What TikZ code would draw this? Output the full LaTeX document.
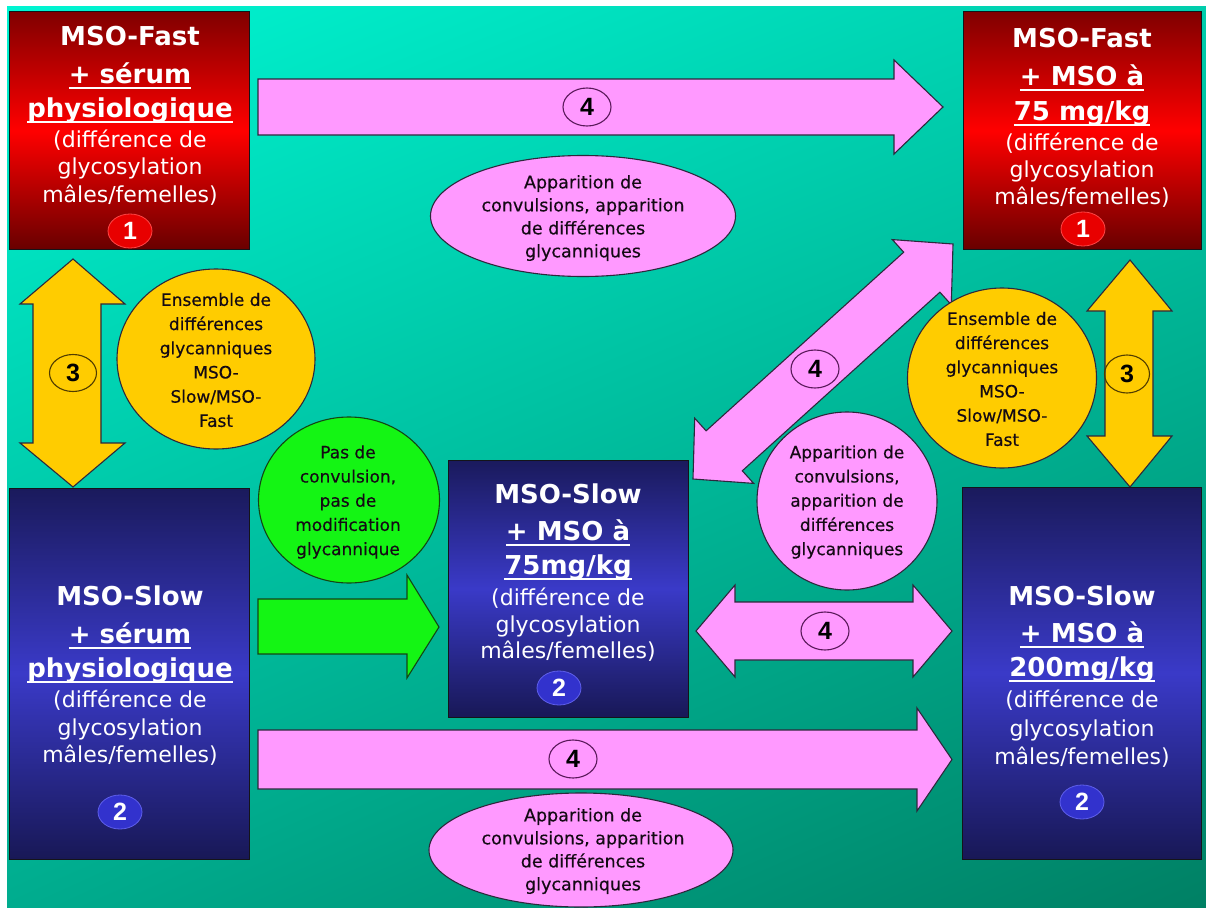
\documentclass[tikz,border=0pt]{standalone}
\usepackage{fontspec}
\setmainfont{DejaVu Sans}
\newfontfamily\numfont{Liberation Sans}
\newfontfamily\bubfont{DejaVu Sans}[FakeBold=0.4]
\usetikzlibrary{shapes.geometric,shadings}

\newcommand\hdrfont{\fontsize{26bp}{30bp}\selectfont\bfseries}
\newcommand\bodyfont{\fontsize{22bp}{27bp}\selectfont}
\newcommand\circfont{\bubfont\fontsize{17bp}{24.2bp}\selectfont}
\newcommand\ellfont{\bubfont\fontsize{17.5bp}{23bp}\selectfont}
\newcommand\digitfont{\numfont\bfseries\fontsize{25bp}{25bp}\selectfont}
\newsavebox\ulbox
\newcommand\ulx[1]{\sbox\ulbox{#1}\rlap{\rule[-5.5bp]{\wd\ulbox}{1.6bp}}\usebox\ulbox}

\definecolor{bgUL}{RGB}{0,245,210}
\definecolor{bgUR}{RGB}{0,205,172}
\definecolor{bgLL}{RGB}{0,172,142}
\definecolor{bgLR}{RGB}{0,128,100}
\definecolor{redT}{RGB}{128,0,0}
\definecolor{redM}{RGB}{255,0,0}
\definecolor{redB}{RGB}{105,0,0}
\definecolor{bluT}{RGB}{26,26,92}
\definecolor{bluM}{RGB}{58,58,200}
\definecolor{bluB}{RGB}{24,24,86}
\definecolor{boxedge}{RGB}{20,20,25}
\definecolor{pinkA}{RGB}{255,153,255}
\definecolor{yelA}{RGB}{255,204,0}
\definecolor{grnA}{RGB}{20,245,20}
\definecolor{edgeA}{RGB}{45,40,60}
\definecolor{edgeG}{RGB}{20,70,20}
\definecolor{labP}{RGB}{90,25,90}
\definecolor{labY}{RGB}{80,60,0}
\definecolor{txtdark}{RGB}{20,10,20}
\definecolor{badR}{RGB}{232,0,0}
\definecolor{badRe}{RGB}{255,70,70}
\definecolor{badB}{RGB}{50,50,205}
\definecolor{badBe}{RGB}{95,95,235}

\begin{document}
\begin{tikzpicture}[x=1bp,y=-1bp,
  every node/.style={inner sep=0pt, outer sep=0pt},
  redbox/.style={rectangle, draw=boxedge, line width=1bp, top color=redT, bottom color=redB, middle color=redM},
  bluebox/.style={rectangle, draw=boxedge, line width=1bp, top color=bluT, bottom color=bluB, middle color=bluM},
  hdr/.style={anchor=base, text=white, font=\hdrfont},
  bdy/.style={anchor=base, text=white, font=\bodyfont},
  badgeR/.style={ellipse, minimum width=44bp, minimum height=34bp, fill=badR, draw=badRe, line width=0.8bp, text=white, font=\digitfont},
  badgeB/.style={ellipse, minimum width=44bp, minimum height=34bp, fill=badB, draw=badBe, line width=0.8bp, text=white, font=\digitfont},
  blockarrow/.style={draw=edgeA, line width=1.1bp, line join=miter},
  numlab/.style={ellipse, minimum width=48bp, minimum height=38bp, line width=1.1bp, font=\digitfont, text=black},
  bubble/.style={ellipse, draw=edgeA, line width=1.1bp},
  bubtext/.style={align=center, text=txtdark, font=\circfont},
  elltext/.style={align=center, text=txtdark, font=\ellfont},
]
\useasboundingbox (0,0) rectangle (1206,908);
\fill[white] (0,0) rectangle (1206,908);
\shade[upper left=bgUL, upper right=bgUR, lower left=bgLL, lower right=bgLR] (7,6) rectangle (1206,908);

% ---------- block arrows ----------
\filldraw[blockarrow, fill=pinkA] (258,79) -- (894,79) -- (894,60) -- (943,107) -- (894,154) -- (894,135) -- (258,135) -- cycle;
\filldraw[blockarrow, fill=pinkA] (258,730) -- (917,730) -- (917,708) -- (952,759.5) -- (917,811) -- (917,789) -- (258,789) -- cycle;
\filldraw[blockarrow, fill=pinkA] (696,631) -- (735,585) -- (735,602) -- (913,602) -- (913,585) -- (952,631) -- (913,677) -- (913,660) -- (735,660) -- (735,677) -- cycle;
\filldraw[blockarrow, fill=pinkA] (693,479) -- (694.7,418.2) -- (706.1,430.8) -- (903.7,252.2) -- (892.3,239.6) -- (953,244) -- (951.3,304.8) -- (939.9,292.2) -- (742.3,470.8) -- (753.7,483.4) -- cycle;
\filldraw[blockarrow, draw=edgeG, fill=grnA] (258,599) -- (407,599) -- (407,575) -- (439,627) -- (407,678) -- (407,654) -- (258,654) -- cycle;
\filldraw[blockarrow, fill=yelA] (73,259) -- (125,304) -- (101,304) -- (101,443) -- (125,443) -- (73,487) -- (20,443) -- (33,443) -- (33,304) -- (20,304) -- cycle;
\filldraw[blockarrow, fill=yelA] (1130,260) -- (1172,311) -- (1153,311) -- (1153,436) -- (1172,436) -- (1130,487) -- (1087,436) -- (1105,436) -- (1105,311) -- (1087,311) -- cycle;

% ---------- number labels on arrows ----------
\node[numlab, draw=labP] (n4top) at (587,107) {4};
\node[numlab, draw=labP] (n4diag) at (815,369) {4};
\node[numlab, draw=labP] (n4mid) at (825,631) {4};
\node[numlab, draw=labP] (n4bot) at (573,759) {4};
\node[numlab, draw=labY, minimum width=47bp, minimum height=37bp] (n3left) at (73,373) {3};
\node[numlab, draw=labY, minimum width=45bp, minimum height=38bp] (n3right) at (1127,374) {3};

% ---------- bubbles ----------
\node[bubble, fill=pinkA, minimum width=305bp, minimum height=121bp] (etop) at (583,216) {};
\node[elltext] (etopt) at (583,218) {Apparition de\\convulsions, apparition\\de différences\\glycanniques};
\node[bubble, fill=pinkA, minimum width=304bp, minimum height=114bp] (ebot) at (581,850) {};
\node[elltext] (ebott) at (583,851) {Apparition de\\convulsions, apparition\\de différences\\glycanniques};
\node[bubble, fill=yelA, minimum width=198bp, minimum height=180bp] (yleft) at (216,359) {};
\node[bubtext] (ylefttx) at (216,360) {Ensemble de\\différences\\glycanniques\\MSO-\\Slow/MSO-\\Fast};
\node[bubble, fill=yelA, minimum width=189bp, minimum height=180bp] (yright) at (1002,378) {};
\node[bubtext] (yrighttx) at (1002,379) {Ensemble de\\différences\\glycanniques\\MSO-\\Slow/MSO-\\Fast};
\node[bubble, draw=edgeG, fill=grnA, minimum width=181bp, minimum height=166bp] (gcirc) at (349,500) {};
\node[bubtext] (gcirct) at (348,502) {Pas de\\convulsion,\\pas de\\modification\\glycannique};
\node[bubble, fill=pinkA, minimum width=180bp, minimum height=178bp] (pcirc) at (847,501) {};
\node[bubtext] (pcirct) at (847,502) {Apparition de\\convulsions,\\apparition de\\différences\\glycanniques};

% ---------- boxes ----------
\node[redbox, minimum width=239bp, minimum height=237bp] (tl) at (129.5,130.5) {};
\node[redbox, minimum width=238bp, minimum height=237bp] (tr) at (1082,130.5) {};
\node[bluebox, minimum width=240bp, minimum height=257bp] (mid) at (568,588.5) {};
\node[bluebox, minimum width=239bp, minimum height=371bp] (bl) at (129.5,673.5) {};
\node[bluebox, minimum width=239bp, minimum height=372bp] (br) at (1081.5,673) {};

% top-left text
\node[hdr] (tl1) at (130,45) {MSO-Fast};
\node[hdr] (tl2) at (130,83) {\ulx{+ sérum}};
\node[hdr] (tl3) at (130,117) {\ulx{physiologique}};
\node[bdy] (tl4) at (130,147) {(différence de};
\node[bdy] (tl5) at (130,174) {glycosylation};
\node[bdy] (tl6) at (130,202) {mâles/femelles)};
\node[badgeR] (tlb) at (130,231) {1};

% top-right text
\node[hdr] (tr1) at (1082,47) {MSO-Fast};
\node[hdr] (tr2) at (1082,85) {\ulx{+ MSO à}};
\node[hdr] (tr3) at (1082,120) {\ulx{75 mg/kg}};
\node[bdy] (tr4) at (1082,150) {(différence de};
\node[bdy] (tr5) at (1082,177) {glycosylation};
\node[bdy] (tr6) at (1082,204) {mâles/femelles)};
\node[badgeR] (trb) at (1083,229) {1};

% middle text
\node[hdr] (m1) at (568,503) {MSO-Slow};
\node[hdr] (m2) at (568,540) {\ulx{+ MSO à}};
\node[hdr] (m3) at (568,574) {\ulx{75mg/kg}};
\node[bdy] (m4) at (568,605) {(différence de};
\node[bdy] (m5) at (568,632) {glycosylation};
\node[bdy] (m6) at (568,658) {mâles/femelles)};
\node[badgeB] (mb) at (559,688) {2};

% bottom-left text
\node[hdr] (bl1) at (130,605) {MSO-Slow};
\node[hdr] (bl2) at (130,643) {\ulx{+ sérum}};
\node[hdr] (bl3) at (130,677) {\ulx{physiologique}};
\node[bdy] (bl4) at (130,707) {(différence de};
\node[bdy] (bl5) at (130,735) {glycosylation};
\node[bdy] (bl6) at (130,762) {mâles/femelles)};
\node[badgeB] (blb) at (120,812) {2};

% bottom-right text
\node[hdr] (br1) at (1082,605) {MSO-Slow};
\node[hdr] (br2) at (1082,642) {\ulx{+ MSO à}};
\node[hdr] (br3) at (1082,676) {\ulx{200mg/kg}};
\node[bdy] (br4) at (1082,707) {(différence de};
\node[bdy] (br5) at (1082,736) {glycosylation};
\node[bdy] (br6) at (1082,764) {mâles/femelles)};
\node[badgeB] (brb) at (1082,802) {2};
\end{tikzpicture}
\end{document}
